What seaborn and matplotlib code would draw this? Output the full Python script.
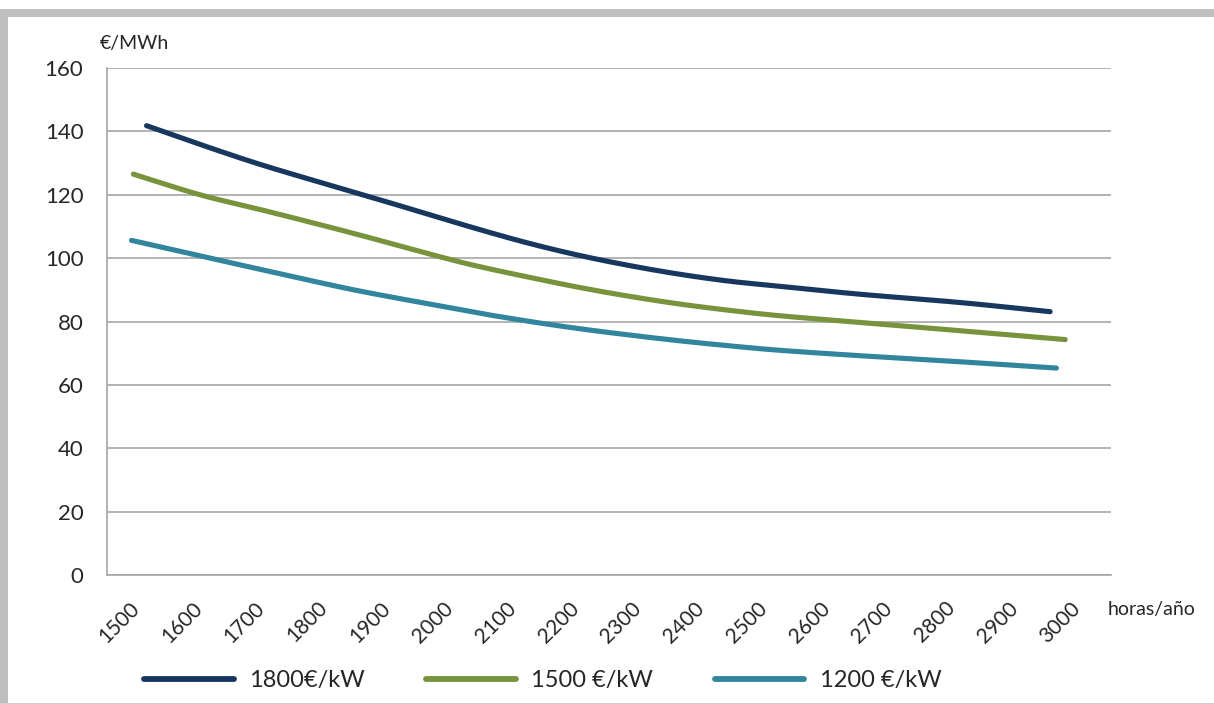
import matplotlib
matplotlib.use("Agg")
import matplotlib.pyplot as plt
from matplotlib.patches import Rectangle
from matplotlib.lines import Line2D
from matplotlib.transforms import ScaledTranslation
import numpy as np
import pandas as pd
import seaborn as sns

# Levelised cost (EUR/MWh) against equivalent operating hours per year,
# one curve per investment cost level.
series_names = ["1800€/kW", "1500 €/kW", "1200 €/kW"]
series_colors = ["#17375E", "#77933C", "#31859C"]

hours_1800 = [1513, 1598, 1705, 1858, 1949, 2044, 2124, 2204, 2284, 2363, 2443, 2523, 2650, 2809, 2953]
lcoe_1800 = [141.8, 135.9, 128.9, 120.0, 114.6, 109.0, 104.6, 100.8, 97.6, 94.9, 92.7, 91.1, 88.6, 86.0, 83.1]

hours_1500 = [1492, 1598, 1705, 1843, 1981, 2044, 2124, 2204, 2284, 2363, 2443, 2523, 2650, 2809, 2977]
lcoe_1500 = [126.5, 120.0, 114.8, 107.8, 100.4, 97.3, 93.9, 90.7, 87.9, 85.5, 83.5, 81.8, 79.7, 77.1, 74.3]

hours_1200 = [1489, 1614, 1705, 1843, 1981, 2044, 2124, 2204, 2284, 2363, 2443, 2523, 2650, 2809, 2963]
lcoe_1200 = [105.6, 100.0, 96.0, 90.0, 84.9, 82.6, 80.0, 77.7, 75.7, 73.9, 72.3, 70.9, 69.2, 67.3, 65.3]

hour_labels = [1500, 1600, 1700, 1800, 1900, 2000, 2100, 2200, 2300, 2400,
               2500, 2600, 2700, 2800, 2900, 3000]
y_ticks = [0, 20, 40, 60, 80, 100, 120, 140, 160]


def smooth_curve(xs, ys, n=24):
    """Catmull-Rom curve through the points (spreadsheet-style smoothed line)."""
    p = np.column_stack([xs, ys]).astype(float)
    p = np.vstack([2 * p[0] - p[1], p, 2 * p[-1] - p[-2]])
    out = []
    t = np.linspace(0, 1, n, endpoint=False)[:, None]
    for i in range(1, len(p) - 2):
        p0, p1, p2, p3 = p[i - 1], p[i], p[i + 1], p[i + 2]
        seg = 0.5 * ((2 * p1) + (-p0 + p2) * t + (2 * p0 - 5 * p1 + 4 * p2 - p3) * t ** 2
                     + (-p0 + 3 * p1 - 3 * p2 + p3) * t ** 3)
        out.append(seg)
    out.append(p[-2][None, :])
    out = np.vstack(out)
    return out[:, 0], out[:, 1]


frames = []
for h, v, name in zip([hours_1800, hours_1500, hours_1200],
                      [lcoe_1800, lcoe_1500, lcoe_1200], series_names):
    sx, sy = smooth_curve(h, v)
    frames.append(pd.DataFrame({"horas": sx, "lcoe": sy, "serie": name}))
df = pd.concat(frames, ignore_index=True)

sns.set_style("white")
plt.rcParams["font.family"] = ["Lato", "DejaVu Sans"]

W, H = 1214, 704
fig = plt.figure(figsize=(W / 100, H / 100), dpi=100)
ax = fig.add_axes([107 / W, 1 - 575 / H, (1111 - 107) / W, (575 - 68) / H])

sns.lineplot(data=df, x="horas", y="lcoe", hue="serie", hue_order=series_names,
             palette=series_colors, sort=False, estimator=None, linewidth=3.7,
             legend=False, ax=ax)
for ln in ax.lines:
    ln.set_solid_capstyle("round")

grid_c = "#A6A6A6"
ax.set_xlim(1450, 3050)
ax.set_ylim(0, 160)
ax.set_yticks(y_ticks)
ax.set_yticklabels([str(v) for v in y_ticks])
ax.yaxis.grid(True, color=grid_c, linewidth=1.2)
ax.xaxis.grid(False)
ax.set_axisbelow(True)

# category boundaries carry the tick marks, category centres carry the labels
ax.set_xticks(np.arange(1450, 3051, 100))
ax.set_xticklabels([])
ax.set_xticks(hour_labels, minor=True)
ax.set_xticklabels([str(v) for v in hour_labels], minor=True, rotation=45,
                   ha="right", va="top", fontsize=15)
ax.tick_params(axis="x", which="major", length=7, width=1.2, color=grid_c, direction="out")
ax.tick_params(axis="x", which="minor", length=0, pad=16.5)
ax.tick_params(axis="y", length=5, width=1.2, color=grid_c, pad=12, labelsize=16,
               direction="out")
shift = ScaledTranslation(5 / 100, 0, fig.dpi_scale_trans)
for lab in ax.get_xticklabels(minor=True):
    lab.set_transform(lab.get_transform() + shift)

for side in ["top", "right"]:
    ax.spines[side].set_visible(False)
for side in ["left", "bottom"]:
    ax.spines[side].set_color(grid_c)
    ax.spines[side].set_linewidth(1.2)

ax.set_xlabel("")
ax.set_ylabel("")

fig.text(100 / W, 1 - 44 / H, "€/MWh", ha="left", va="center", fontsize=14)
fig.text(1108 / W, 1 - 610 / H, "horas/año", ha="left", va="center", fontsize=14)

handles = [Line2D([0], [0], color=c, linewidth=4.2) for c in series_colors]
fig.legend(handles, series_names, loc="center left", bbox_to_anchor=(144 / W, 1 - 681 / H),
           ncol=3, frameon=False, fontsize=17, handlelength=3.8, handletextpad=0.65,
           columnspacing=2.6, borderpad=0, borderaxespad=0)

# light grey frame around the chart area
frame_c = "#BFBFBF"
fig.add_artist(Rectangle((0, 1 - 17 / H), 1, 8 / H, transform=fig.transFigure,
                         color=frame_c, lw=0))
fig.add_artist(Rectangle((0, 0), 8 / W, 1 - 9 / H, transform=fig.transFigure,
                         color=frame_c, lw=0))
fig.add_artist(Rectangle((0, 0), 1, 1.5 / H, transform=fig.transFigure,
                         color="#D0D0D0", lw=0))

fig.savefig("out.png", dpi=100)
